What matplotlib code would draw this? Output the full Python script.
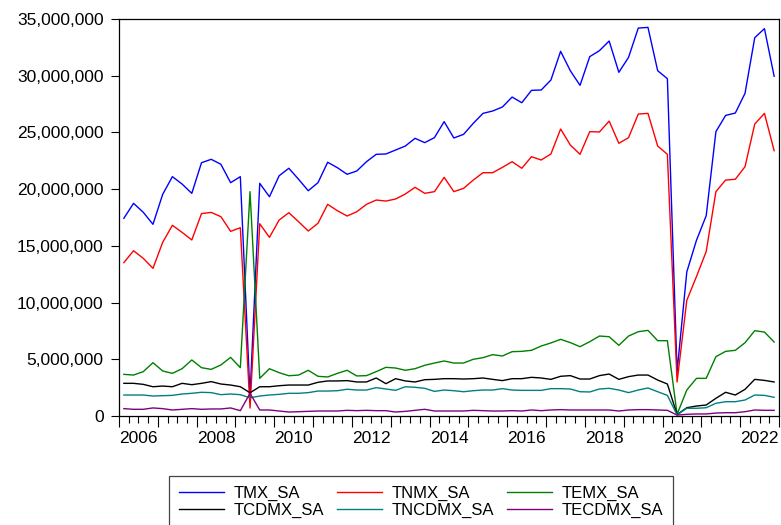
import matplotlib
matplotlib.use("Agg")
import matplotlib.pyplot as plt
import matplotlib.ticker as mticker
import matplotlib.transforms as mtransforms
import numpy as np

plt.rcParams['font.family'] = ['Liberation Sans', 'DejaVu Sans']

start_year = 2006
end_year = 2022
label_years = [2006, 2008, 2010, 2012, 2014, 2016, 2018, 2020, 2022]

# values in millions, quarterly 2006Q1..2022Q4
TMX_SA = [17.43, 18.75, 17.96, 16.9, 19.54, 21.1, 20.45, 19.63, 22.33, 22.63, 22.19, 20.57, 21.1,
          1.8,
          20.51, 19.33, 21.18, 21.84, 20.87, 19.86, 20.57, 22.37, 21.89, 21.31,
          21.6, 22.42, 23.07, 23.1, 23.45, 23.8, 24.48, 24.1, 24.54, 25.95,
          24.51, 24.83, 25.8, 26.68, 26.89, 27.24, 28.12, 27.62, 28.71, 28.74,
          29.62, 32.15, 30.44, 29.15, 31.68, 32.21, 33.06, 30.3, 31.62, 34.2, 34.26, 30.44, 29.74,
          3.9,
          12.7, 15.5, 17.66, 25.07, 26.5, 26.71, 28.45, 33.35, 34.15, 29.95]
TNMX_SA = [13.52, 14.57, 13.9, 13.02, 15.31, 16.81, 16.19, 15.52, 17.84, 17.95, 17.57, 16.28, 16.6,
           0.7,
           16.95, 15.75, 17.28, 17.92, 17.13, 16.31, 16.99, 18.66, 18.1, 17.63,
           18.01, 18.66, 19.04, 18.95, 19.13, 19.57, 20.16, 19.63, 19.78, 21.04,
           19.78, 20.07, 20.8, 21.45, 21.45, 21.92, 22.42, 21.84, 22.86, 22.57,
           23.1, 25.3, 23.89, 23.07, 25.07, 25.04, 26.0, 24.04, 24.54, 26.62, 26.68, 23.8, 23.07,
           3.0,
           10.2, 12.3, 14.5, 19.78, 20.8, 20.87, 21.98, 25.74, 26.68, 23.39]
TEMX_SA = [3.67, 3.61, 3.91, 4.7, 3.97, 3.76, 4.17, 4.94, 4.26, 4.11, 4.5, 5.17, 4.26,
           19.78,
           3.32, 4.17, 3.82, 3.55, 3.61, 4.03, 3.5, 3.44, 3.76, 4.03,
           3.53, 3.56, 3.91, 4.29, 4.23, 4.03, 4.17, 4.47, 4.67, 4.85,
           4.67, 4.67, 5.0, 5.14, 5.41, 5.29, 5.67, 5.7, 5.79, 6.17,
           6.44, 6.76, 6.47, 6.11, 6.55, 7.05, 6.99, 6.23, 7.05, 7.43, 7.55, 6.64, 6.64,
           0.15,
           2.29, 3.32, 3.32, 5.23, 5.7, 5.79, 6.46, 7.52, 7.4, 6.52]
TCDMX_SA = [2.88, 2.88, 2.79, 2.58, 2.64, 2.58, 2.88, 2.76, 2.88, 3.03, 2.82, 2.73, 2.58,
            2.05,
            2.58, 2.58, 2.67, 2.73, 2.73, 2.73, 2.97, 3.09, 3.09, 3.12,
            3.0, 3.0, 3.35, 2.85, 3.29, 3.09, 3.0, 3.2, 3.23, 3.29,
            3.29, 3.26, 3.29, 3.35, 3.23, 3.12, 3.29, 3.29, 3.41, 3.35,
            3.23, 3.5, 3.56, 3.26, 3.26, 3.56, 3.7, 3.23, 3.47, 3.61, 3.61, 3.17, 2.82,
            0.12,
            0.73, 0.88, 0.97, 1.56, 2.09, 1.85, 2.35, 3.23, 3.14, 3.0]
TNCDMX_SA = [1.85, 1.85, 1.85, 1.76, 1.79, 1.82, 1.94, 2.0, 2.09, 2.06, 1.88, 1.94, 1.88,
             1.6,
             1.76, 1.85, 1.91, 2.0, 2.0, 2.06, 2.2, 2.2, 2.23, 2.36,
             2.29, 2.29, 2.5, 2.38, 2.26, 2.58, 2.53, 2.44, 2.17, 2.29,
             2.23, 2.14, 2.23, 2.29, 2.29, 2.41, 2.29, 2.26, 2.26, 2.26,
             2.41, 2.41, 2.38, 2.14, 2.12, 2.38, 2.44, 2.29, 2.06, 2.29, 2.47, 2.14, 1.82,
             0.1,
             0.68, 0.68, 0.73, 1.12, 1.26, 1.26, 1.41, 1.85, 1.82, 1.65]
TECDMX_SA = [0.65, 0.59, 0.59, 0.71, 0.65, 0.53, 0.59, 0.65, 0.59, 0.62, 0.62, 0.71, 0.47,
             2.0,
             0.53, 0.53, 0.44, 0.35, 0.38, 0.41, 0.44, 0.44, 0.44, 0.5,
             0.47, 0.5, 0.47, 0.47, 0.35, 0.41, 0.5, 0.59, 0.44, 0.44,
             0.44, 0.44, 0.5, 0.47, 0.44, 0.44, 0.47, 0.44, 0.53, 0.47,
             0.53, 0.56, 0.53, 0.53, 0.53, 0.53, 0.53, 0.44, 0.53, 0.56, 0.56, 0.53, 0.5,
             0.08,
             0.15, 0.18, 0.18, 0.26, 0.29, 0.29, 0.38, 0.53, 0.5, 0.5]

series = [
    ("TMX_SA", TMX_SA, "#0000FF"),
    ("TNMX_SA", TNMX_SA, "#FF0000"),
    ("TEMX_SA", TEMX_SA, "#008000"),
    ("TCDMX_SA", TCDMX_SA, "#000000"),
    ("TNCDMX_SA", TNCDMX_SA, "#008080"),
    ("TECDMX_SA", TECDMX_SA, "#800080"),
]

W, H = 781, 525
fig = plt.figure(figsize=(W / 100, H / 100), dpi=100)
ax = fig.add_axes([119 / W, 1 - 416 / H, 660 / W, 397 / H])

n = len(TMX_SA)
x = np.arange(n)
lines = {}
for name, vals, col in series:
    ln, = ax.plot(x, np.array(vals) * 1e6, color=col, lw=1.0, label=name)
    lines[name] = ln

ax.set_xlim(-0.5, n - 0.5)
ax.set_ylim(0, 35e6)
ax.yaxis.set_major_locator(mticker.MultipleLocator(5e6))
ax.yaxis.set_major_formatter(mticker.FuncFormatter(lambda v, p: f"{int(round(v)):,}"))
ax.tick_params(axis='y', direction='out', length=6, width=0.8, pad=5, labelsize=12.5, colors='black')

nyears = end_year - start_year + 1
ax.set_xticks([-0.5 + 4 * k for k in range(nyears + 1)])
ax.set_xticklabels([])
ax.set_xticks([q - 0.5 for q in range(n + 1) if q % 4 != 0], minor=True)
ax.tick_params(axis='x', which='major', direction='out', length=8, width=0.8)
ax.tick_params(axis='x', which='minor', direction='out', length=5, width=0.8)

trans = mtransforms.blended_transform_factory(ax.transData, ax.transAxes)
for yr in label_years:
    xp = (yr - start_year) * 4 + 1.5
    ax.text(xp, -0.038, str(yr), transform=trans, ha='center', va='top', fontsize=12.5)

for s in ax.spines.values():
    s.set_linewidth(0.9)
    s.set_color('black')

order = ["TMX_SA", "TCDMX_SA", "TNMX_SA", "TNCDMX_SA", "TEMX_SA", "TECDMX_SA"]
leg = fig.legend([lines[k] for k in order], order, ncol=3, loc='upper left',
                 bbox_to_anchor=(169 / W, 1 - 476 / H), bbox_transform=fig.transFigure,
                 fontsize=12, handlelength=2.7, handletextpad=0.55, columnspacing=0.8,
                 labelspacing=0.1, borderpad=0.6, borderaxespad=0, fancybox=False,
                 frameon=True, framealpha=1)
leg.get_frame().set_edgecolor('#444444')
leg.get_frame().set_linewidth(0.9)

fig.savefig("out.png", dpi=100)
